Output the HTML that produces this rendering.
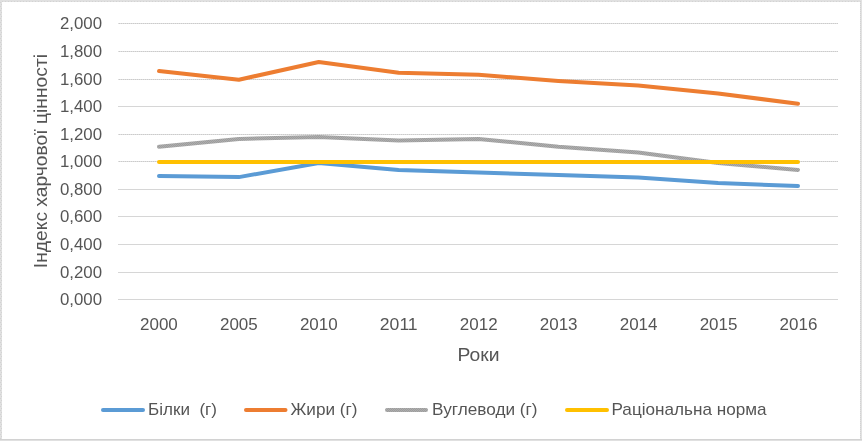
<!DOCTYPE html>
<html><head><meta charset="utf-8"><title>Chart</title>
<style>
html,body{margin:0;padding:0;background:#fff;}
svg{display:block;will-change:transform;}
text{font-family:"Liberation Sans",sans-serif;fill:#555555;}
</style></head><body>
<svg width="862" height="441" viewBox="0 0 862 441">
<rect x="0" y="0" width="862" height="441" fill="#ffffff"/>
<defs>
<pattern id="bt" x="0" y="0" width="3" height="1" patternUnits="userSpaceOnUse"><rect width="3" height="1" fill="#e0e0e0"/><rect x="2" y="0" width="1" height="1" fill="#d3d3d3"/></pattern>
<pattern id="bl0" x="0" y="0" width="1" height="4" patternUnits="userSpaceOnUse"><rect width="1" height="4" fill="#e0e0e0"/><rect x="0" y="2" width="1" height="1" fill="#d3d3d3"/></pattern>
<pattern id="bl1" x="0" y="0" width="1" height="4" patternUnits="userSpaceOnUse"><rect width="1" height="4" fill="#e0e0e0"/><rect x="0" y="0" width="1" height="1" fill="#d3d3d3"/></pattern>
<pattern id="br" x="0" y="0" width="1" height="2" patternUnits="userSpaceOnUse"><rect width="1" height="2" fill="#e0e0e0"/><rect x="0" y="1" width="1" height="1" fill="#d3d3d3"/></pattern>
</defs>
<rect x="0" y="0" width="862" height="1" fill="#e0e0e0"/>
<rect x="0" y="1" width="862" height="1" fill="url(#bt)"/>
<rect x="0" y="0" width="1" height="441" fill="url(#bl0)"/>
<rect x="1" y="1" width="1" height="440" fill="url(#bl1)"/>
<rect x="860" y="2" width="1" height="439" fill="url(#br)"/>
<rect x="861" y="0" width="1" height="441" fill="#e2e2e2"/>
<rect x="0" y="439" width="862" height="1" fill="#d2d2d2"/>
<rect x="0" y="440" width="862" height="1" fill="#e0e0e0"/>

<defs><pattern id="dot" x="0" y="0" width="2" height="1" patternUnits="userSpaceOnUse"><rect x="0" y="0" width="1" height="1" fill="#dfdfdf"/><rect x="1" y="0" width="1" height="1" fill="#cbcbcb"/></pattern><pattern id="chk" x="0" y="0" width="2" height="2" patternUnits="userSpaceOnUse"><rect width="2" height="2" fill="#adadad"/><rect x="0" y="0" width="1" height="1" fill="#9d9d9d"/><rect x="1" y="1" width="1" height="1" fill="#9d9d9d"/></pattern></defs>
<rect x="118" y="23" width="720" height="1" fill="url(#dot)"/>
<rect x="118" y="51" width="720" height="1" fill="url(#dot)"/>
<rect x="118" y="79" width="720" height="1" fill="url(#dot)"/>
<rect x="118" y="106" width="720" height="1" fill="#d6d6d6"/>
<rect x="118" y="134" width="720" height="1" fill="url(#dot)"/>
<rect x="118" y="161" width="720" height="1" fill="url(#dot)"/>
<rect x="118" y="189" width="720" height="1" fill="#d6d6d6"/>
<rect x="118" y="216" width="720" height="1" fill="#d6d6d6"/>
<rect x="118" y="244" width="720" height="1" fill="#d6d6d6"/>
<rect x="118" y="272" width="720" height="1" fill="#d6d6d6"/>
<rect x="118" y="299" width="720" height="1" fill="#d6d6d6"/>
<text x="102" y="29.3" font-size="16" text-anchor="end" textLength="42" lengthAdjust="spacingAndGlyphs">2,000</text>
<text x="102" y="57.3" font-size="16" text-anchor="end" textLength="42" lengthAdjust="spacingAndGlyphs">1,800</text>
<text x="102" y="85.3" font-size="16" text-anchor="end" textLength="42" lengthAdjust="spacingAndGlyphs">1,600</text>
<text x="102" y="112.3" font-size="16" text-anchor="end" textLength="42" lengthAdjust="spacingAndGlyphs">1,400</text>
<text x="102" y="140.3" font-size="16" text-anchor="end" textLength="42" lengthAdjust="spacingAndGlyphs">1,200</text>
<text x="102" y="167.3" font-size="16" text-anchor="end" textLength="42" lengthAdjust="spacingAndGlyphs">1,000</text>
<text x="102" y="195.3" font-size="16" text-anchor="end" textLength="42" lengthAdjust="spacingAndGlyphs">0,800</text>
<text x="102" y="222.3" font-size="16" text-anchor="end" textLength="42" lengthAdjust="spacingAndGlyphs">0,600</text>
<text x="102" y="250.3" font-size="16" text-anchor="end" textLength="42" lengthAdjust="spacingAndGlyphs">0,400</text>
<text x="102" y="278.3" font-size="16" text-anchor="end" textLength="42" lengthAdjust="spacingAndGlyphs">0,200</text>
<text x="102" y="305.3" font-size="16" text-anchor="end" textLength="42" lengthAdjust="spacingAndGlyphs">0,000</text>
<text x="158.9" y="329.7" font-size="16" text-anchor="middle" textLength="37.8" lengthAdjust="spacingAndGlyphs">2000</text>
<text x="238.85000000000002" y="329.7" font-size="16" text-anchor="middle" textLength="37.8" lengthAdjust="spacingAndGlyphs">2005</text>
<text x="318.8" y="329.7" font-size="16" text-anchor="middle" textLength="37.8" lengthAdjust="spacingAndGlyphs">2010</text>
<text x="398.75" y="329.7" font-size="16" text-anchor="middle" textLength="37.8" lengthAdjust="spacingAndGlyphs">2011</text>
<text x="478.70000000000005" y="329.7" font-size="16" text-anchor="middle" textLength="37.8" lengthAdjust="spacingAndGlyphs">2012</text>
<text x="558.65" y="329.7" font-size="16" text-anchor="middle" textLength="37.8" lengthAdjust="spacingAndGlyphs">2013</text>
<text x="638.6" y="329.7" font-size="16" text-anchor="middle" textLength="37.8" lengthAdjust="spacingAndGlyphs">2014</text>
<text x="718.55" y="329.7" font-size="16" text-anchor="middle" textLength="37.8" lengthAdjust="spacingAndGlyphs">2015</text>
<text x="798.5" y="329.7" font-size="16" text-anchor="middle" textLength="37.8" lengthAdjust="spacingAndGlyphs">2016</text>
<text x="478.5" y="360.7" font-size="17.6" text-anchor="middle" textLength="42" lengthAdjust="spacingAndGlyphs">Роки</text>
<text transform="translate(47.2,161.1) rotate(-90)" font-size="17.6" text-anchor="middle" textLength="214.2" lengthAdjust="spacingAndGlyphs">Індекс харчової цінності</text>
<polyline fill="none" stroke="#5b9bd5" stroke-width="4" stroke-linecap="round" stroke-linejoin="round" points="159.00,176.10 238.88,177.10 318.75,163.00 398.62,169.90 478.50,172.60 558.38,175.00 638.25,177.60 718.12,183.10 798.00,185.90"/>
<polyline fill="none" stroke="#ed7d31" stroke-width="4" stroke-linecap="round" stroke-linejoin="round" points="159.00,71.10 238.88,79.70 318.75,62.00 398.62,72.80 478.50,74.80 558.38,80.90 638.25,85.40 718.12,93.40 798.00,103.80"/>
<polyline fill="none" stroke="url(#chk)" stroke-width="4" stroke-linecap="round" stroke-linejoin="round" points="159.00,146.70 238.88,139.00 318.75,137.00 398.62,140.60 478.50,138.90 558.38,146.70 638.25,152.60 718.12,162.90 798.00,169.90"/>
<polyline fill="none" stroke="#ffc000" stroke-width="4" stroke-linecap="round" stroke-linejoin="round" points="159.00,162.00 238.88,162.00 318.75,162.00 398.62,162.00 478.50,162.00 558.38,162.00 638.25,162.00 718.12,162.00 798.00,162.00"/>
<line x1="103" y1="410" x2="143" y2="410" stroke="#5b9bd5" stroke-width="4" stroke-linecap="round"/>
<text x="148" y="414.8" font-size="16.4" textLength="69" lengthAdjust="spacingAndGlyphs" xml:space="preserve">Білки  (г)</text>
<line x1="246" y1="410" x2="285.5" y2="410" stroke="#ed7d31" stroke-width="4" stroke-linecap="round"/>
<text x="290.5" y="414.8" font-size="16.4" textLength="67.0" lengthAdjust="spacingAndGlyphs" xml:space="preserve">Жири (г)</text>
<line x1="387" y1="410" x2="426" y2="410" stroke="url(#chk)" stroke-width="4" stroke-linecap="round"/>
<text x="432" y="414.8" font-size="16.4" textLength="105.5" lengthAdjust="spacingAndGlyphs" xml:space="preserve">Вуглеводи (г)</text>
<line x1="567" y1="410" x2="607" y2="410" stroke="#ffc000" stroke-width="4" stroke-linecap="round"/>
<text x="611.5" y="414.8" font-size="16.4" textLength="155.0" lengthAdjust="spacingAndGlyphs" xml:space="preserve">Раціональна норма</text>
</svg></body></html>
